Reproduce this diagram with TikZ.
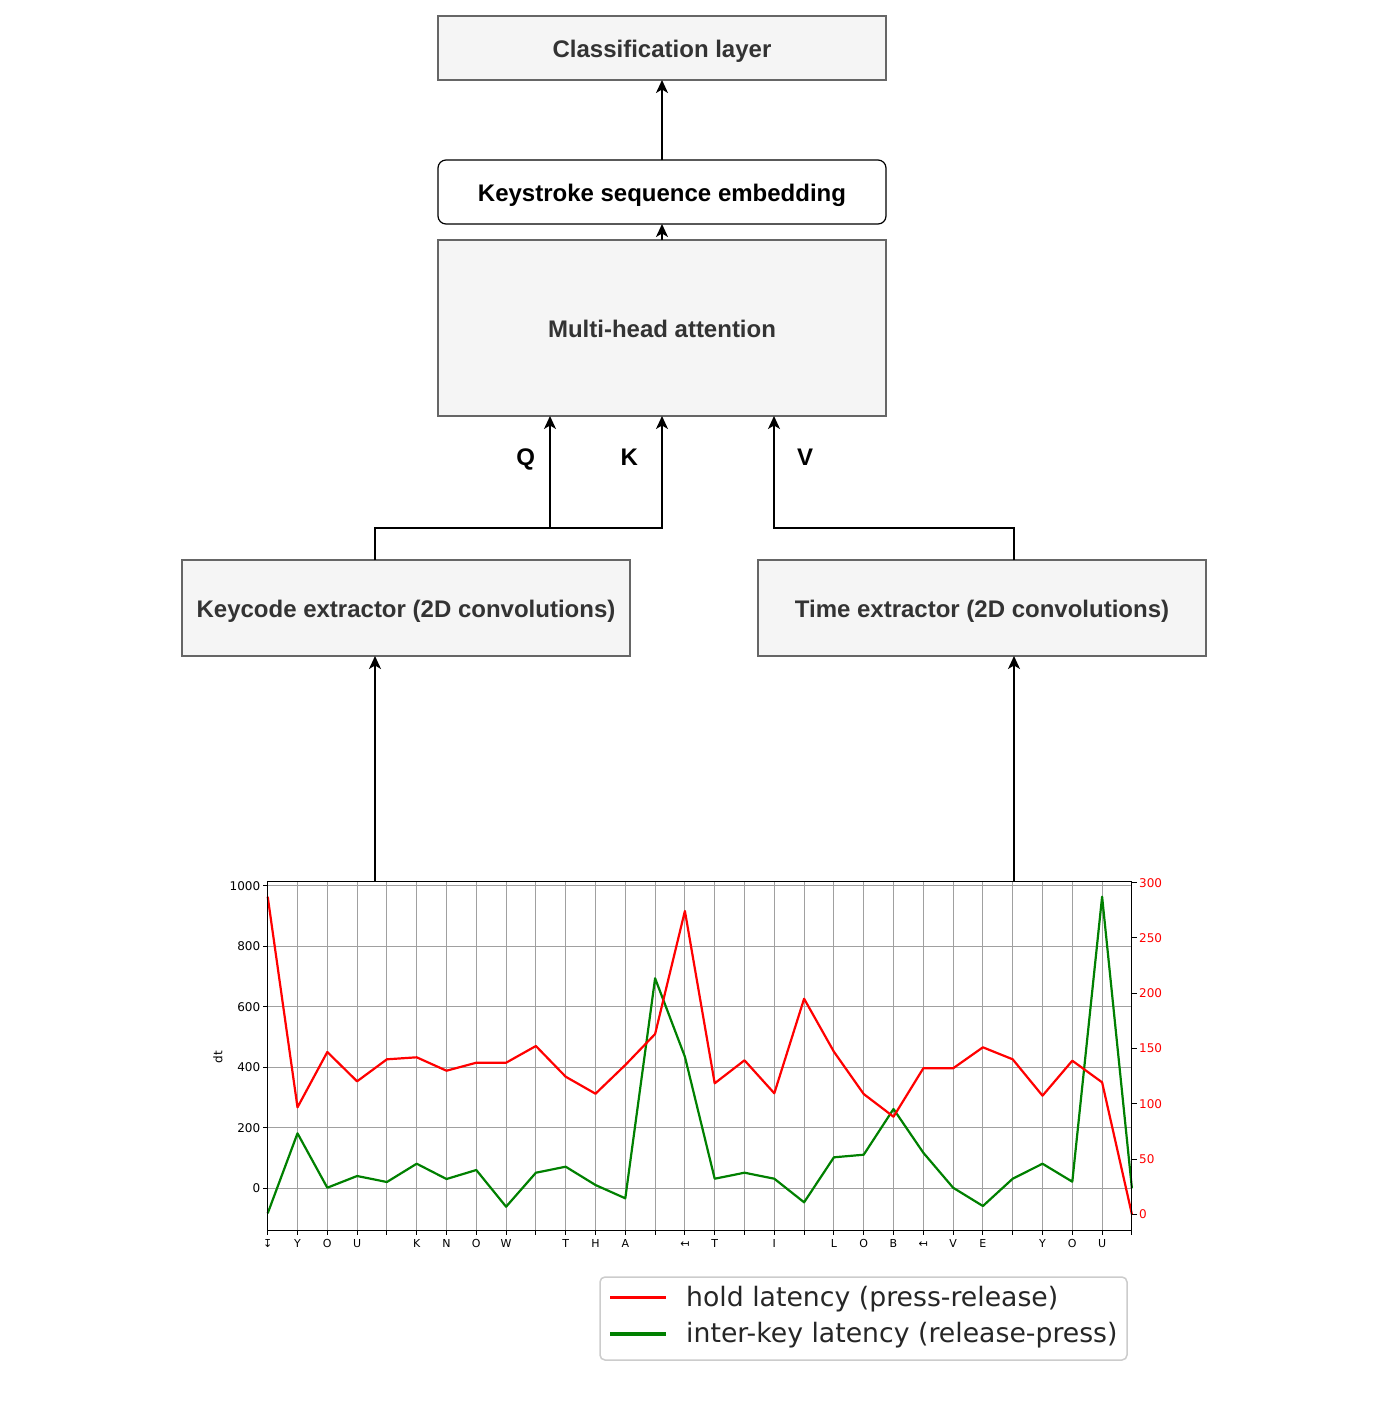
\documentclass[tikz,border=0pt]{standalone}
\usepackage{fontspec}
\setmainfont{Liberation Sans}
\newfontfamily\dv{DejaVu Sans}
\usetikzlibrary{arrows.meta}
\definecolor{boxfill}{HTML}{F5F5F5}
\definecolor{boxline}{HTML}{666666}
\definecolor{boxtext}{HTML}{333333}
\definecolor{gridc}{HTML}{A0A0A0}
\definecolor{mplred}{HTML}{FF0000}
\definecolor{mplgreen}{HTML}{008000}
\definecolor{legline}{HTML}{CCCCCC}
\definecolor{legtext}{HTML}{262626}
\begin{document}
\begin{tikzpicture}[x=1pt,y=-1pt,
  graybox/.style={draw=boxline, fill=boxfill, line width=1.2pt, minimum width=448pt,
    inner sep=0pt, outer sep=0pt, text=boxtext, text height=19pt, text depth=0pt,
    font=\fontsize{24}{28}\selectfont\bfseries},
  whitebox/.style={draw=black, fill=white, rounded corners=8pt, line width=1.2pt,
    minimum width=448pt, minimum height=64pt, inner sep=0pt, outer sep=0pt,
    text height=19pt, text depth=0pt, font=\fontsize{24}{28}\selectfont\bfseries},
  arr/.style={draw=black, line width=1.3pt, -{Stealth[length=13pt,width=12pt,inset=3.5pt]}},
  qkv/.style={font=\fontsize{24}{28}\selectfont\bfseries, inner sep=0pt, anchor=base},
  gridline/.style={draw=gridc, line width=1pt},
  tickline/.style={draw=black, line width=1pt},
  ticklbl/.style={font=\dv\fontsize{12}{14}\selectfont, inner sep=2pt},
  xlbl/.style={font=\dv\fontsize{11}{13}\selectfont, inner sep=0pt, anchor=base},
  dataline/.style={line width=2.2pt, line join=round},
  legfont/.style={font=\dv\fontsize{26.7}{30}\selectfont, text=legtext, inner sep=0pt, anchor=west}
]
\useasboundingbox (0,0) rectangle (1400,1417);

% ---------------- boxes ----------------
\node[graybox, minimum height=64pt] (cls) at (662,48) {Classification layer};
\node[whitebox] (kse) at (662,192) {Keystroke sequence embedding};
\node[graybox, minimum height=176pt] (mha) at (662,328) {Multi-head attention};
\node[graybox, minimum height=96pt] (kc) at (406,608) {Keycode extractor (2D convolutions)};
\node[graybox, minimum height=96pt] (tx) at (982,608) {Time extractor (2D convolutions)};

\node[qkv] (q) at (525.7,465.5) {Q};
\node[qkv] (k) at (629.3,465.5) {K};
\node[qkv] (v) at (805,465.5) {V};

\coordinate (qx) at (550,0);
\coordinate (vx) at (774,0);
\coordinate (chartK) at (375,881.7);
\coordinate (chartT) at (1014,881.7);

% ---------------- connectors ----------------
\draw[arr] (kse.north) -- (cls.south);
\draw[arr] (mha.north) -- (kse.south);
\draw[arr] (kc.north -| chartK) -- ++(0,-32) -| (mha.south -| qx);
\draw[arr] (kc.north -| chartK) -- ++(0,-32) -| (mha.south);
\draw[arr] (tx.north -| chartT) -- ++(0,-32) -| (mha.south -| vx);
\draw[arr] (chartK) -- (kc.south -| chartK);
\draw[arr] (chartT) -- (tx.south -| chartT);

% ---------------- chart ----------------
\foreach \i in {0,...,29}
  \draw[gridline] ({267.7+29.8*\i},881.7) -- ({267.7+29.8*\i},1230);
\foreach \v in {0,200,...,1000}
  \draw[gridline] (267.7,{1188.3-0.3026*\v}) -- (1131.7,{1188.3-0.3026*\v});

\foreach \v in {0,200,...,1000}
  \draw[tickline] (267.7,{1188.3-0.3026*\v}) -- ++(-5,0) node[left, ticklbl] {\v};
\foreach \r in {0,50,...,300}
  \draw[tickline] (1131.7,{1214.3-1.1053*\r}) -- ++(5,0) node[right, ticklbl, text=mplred] {\r};
\foreach \l [count=\i from 0] in {↧,Y,O,U,{},K,N,O,W,{},T,H,A,{},↤,T,{},I,{},L,O,B,↤,V,E,{},Y,O,U,{}}
  {\draw[tickline] ({267.7+29.8*\i},1230) -- ++(0,5);
   \node[xlbl] (xl\i) at ({267.7+29.8*\i},1247.3) {\l};}

\node[rotate=90, ticklbl] (dt) at (218,1057) {dt};

\foreach \y [count=\i from 0] in {896.7,1107.3,1052,1081.3,1059.3,1057.3,1070.7,1062.7,1062.7,1046,1076.7,1093.7,1065,1034,911,1083.3,1060.3,1093.3,998.7,1051.7,1094,1116.7,1068.3,1068.3,1047.3,1059.3,1095.7,1060.7,1082.3,1214.3}
  \coordinate (r\i) at ({267.7+29.8*\i},\y);
\foreach \y [count=\i from 0] in {1213.3,1133.3,1187.7,1176,1182,1163.7,1179,1170,1206.7,1172.7,1166.7,1185,1198.3,978.3,1056.7,1178.7,1172.7,1178.7,1202.3,1157.3,1154.7,1109,1152.7,1187.7,1206,1178.7,1163.7,1181.7,896.7,1188.3}
  \coordinate (g\i) at ({267.7+29.8*\i},\y);

\draw[dataline, mplgreen] (g0) \foreach \i in {1,...,29} {-- (g\i)};
\draw[dataline, mplred] (r0) \foreach \i in {1,...,29} {-- (r\i)};

\draw[tickline] (267.7,881.7) rectangle (1131.7,1230);

% ---------------- legend ----------------
\node[draw=legline, fill=white, rounded corners=5pt, line width=1.5pt,
      minimum width=527pt, minimum height=83pt, inner sep=0pt] (leg) at (863.5,1318.5) {};
\coordinate (l1a) at (610,1297.5);
\coordinate (l1b) at (666,1297.5);
\coordinate (l2a) at (610,1334);
\coordinate (l2b) at (666,1334);
\draw[mplred, line width=3.5pt] (l1a) -- (l1b);
\draw[mplgreen, line width=3.5pt] (l2a) -- (l2b);
\node[legfont] (lt1) at (686,1299.5) {hold latency (press-release)};
\node[legfont] (lt2) at (686,1335.5) {inter-key latency (release-press)};
\end{tikzpicture}
\end{document}
